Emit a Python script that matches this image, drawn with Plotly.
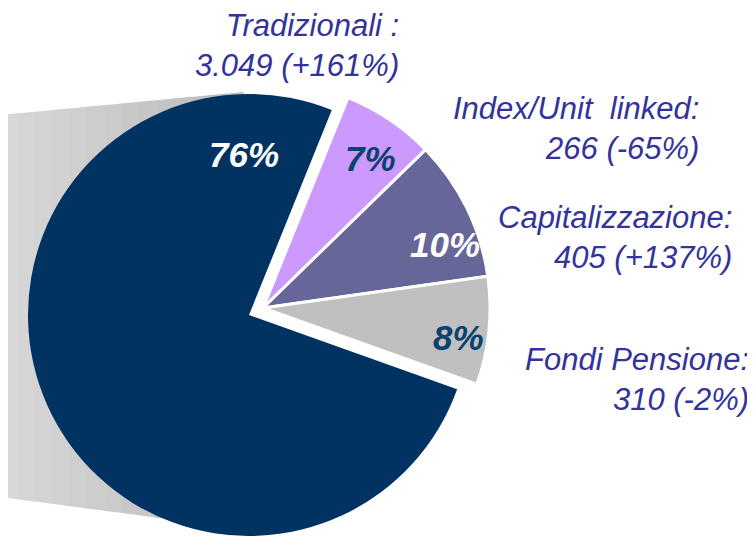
import plotly.graph_objects as go

# ---- data ----
categories = ["Tradizionali :", "Index/Unit\u00a0 linked:", "Capitalizzazione:", "Fondi Pensione:"]
pie_order = ["Index/Unit\u00a0 linked:", "Capitalizzazione:", "Fondi Pensione:", "Tradizionali :"]
values = {"Tradizionali :": 3049, "Index/Unit\u00a0 linked:": 266, "Capitalizzazione:": 405, "Fondi Pensione:": 310}
changes = {"Tradizionali :": "+161%", "Index/Unit\u00a0 linked:": "-65%", "Capitalizzazione:": "+137%", "Fondi Pensione:": "-2%"}
colors = {"Tradizionali :": "#003262", "Index/Unit\u00a0 linked:": "#CC99FF", "Capitalizzazione:": "#666699", "Fondi Pensione:": "#C0C0C0"}
pct_colors = {"Tradizionali :": "white", "Index/Unit\u00a0 linked:": "#0A426E", "Capitalizzazione:": "white", "Fondi Pensione:": "#0A426E"}

# page body has an 8px margin: figure is sized so it fills the 755x536 window
OFF = 8
W, H = 755 - OFF, 536 - OFF
vals = [values[c] for c in pie_order]
total = sum(vals)
TRANSP = "rgba(0,0,0,0)"


def px_x(x):
    return (x - OFF) / W


def px_y(y):
    return 1 - (y - OFF) / H


def dom(cx, cy, r):
    cx, cy = cx - OFF, cy - OFF
    return dict(x=[(cx - r) / W, (cx + r) / W], y=[max(0, (H - cy - r) / H), min(1, (H - cy + r) / H)])


fig = go.Figure()
# main (not pulled) slice
fig.add_trace(go.Pie(
    labels=pie_order, values=vals, sort=False, direction="clockwise", rotation=22,
    marker=dict(colors=[colors[c] if c == "Tradizionali :" else TRANSP for c in pie_order],
                line=dict(width=0)),
    textinfo="none", hoverinfo="skip", showlegend=False,
    domain=dom(249, 315, 221),
))
# exploded group of small slices
fig.add_trace(go.Pie(
    labels=pie_order, values=vals, sort=False, direction="clockwise", rotation=22,
    marker=dict(colors=[TRANSP if c == "Tradizionali :" else colors[c] for c in pie_order],
                line=dict(color="white", width=[0 if c == "Tradizionali :" else 3 for c in pie_order])),
    textinfo="none", hoverinfo="skip", showlegend=False,
    domain=dom(263, 308, 227),
))

# shadow with horizontal gradient
shapes = []
n = 14
x0, x1 = 0, 243


def top(x):
    return 115 + (92 - 115) * x / 243


def bot(x):
    return 497 + (529 - 497) * x / 243


for i in range(n):
    xa = x0 + (x1 - x0) * i / n
    xb = x0 + (x1 - x0) * (i + 1) / n + 0.6
    g = int(216 - (216 - 188) * i / (n - 1))
    path = (f"M {px_x(xa)},{px_y(top(xa))} L {px_x(xb)},{px_y(top(xb))} "
            f"L {px_x(xb)},{px_y(bot(xb))} L {px_x(xa)},{px_y(bot(xa))} Z")
    shapes.append(dict(type="path", path=path, xref="paper", yref="paper",
                       fillcolor=f"rgb({g},{g},{g})", line=dict(width=0), layer="below"))

annotations = []
# percentage labels
pct_pos = {"Tradizionali :": (244, 155), "Index/Unit\u00a0 linked:": (370, 158),
           "Capitalizzazione:": (445, 244), "Fondi Pensione:": (458, 337)}
for c in categories:
    px, py = pct_pos[c]
    annotations.append(dict(
        x=px_x(px), y=px_y(py), xref="paper", yref="paper", showarrow=False,
        text=f"{round(values[c] / total * 100)}%", xanchor="center", yanchor="middle",
        font=dict(family="Liberation Sans, Arial, sans-serif", size=35, color=pct_colors[c],
                  weight="bold", style="italic")))

# outside labels
lab_pos = {"Tradizionali :": (401, 45), "Index/Unit\u00a0 linked:": (701, 128),
           "Capitalizzazione:": (734, 238), "Fondi Pensione:": (751, 379)}
for c in categories:
    px, py = lab_pos[c]
    v = f"{values[c]:,}".replace(",", ".")
    annotations.append(dict(
        x=px_x(px), y=px_y(py), xref="paper", yref="paper", showarrow=False,
        text=f"{c}<br>{v} ({changes[c]})", xanchor="right", yanchor="middle", align="right",
        font=dict(family="Liberation Sans, Arial, sans-serif", size=31, color="#333399",
                  style="italic")))

fig.update_layout(
    width=W, height=H, margin=dict(l=0, r=0, t=0, b=0),
    paper_bgcolor="white", plot_bgcolor="white",
    shapes=shapes, annotations=annotations, showlegend=False,
)
fig.write_html("out.html")
